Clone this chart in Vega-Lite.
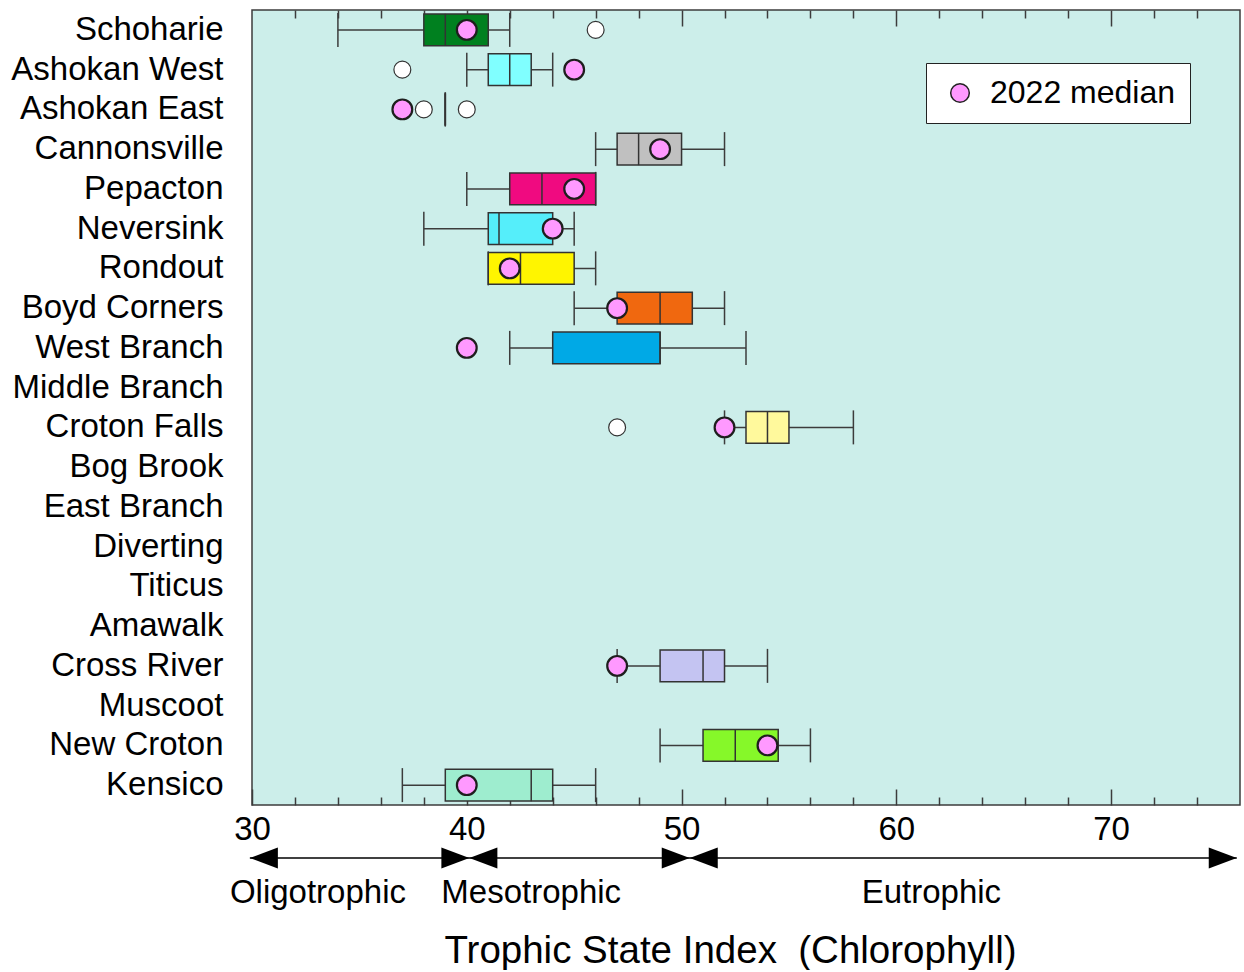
{
  "$schema": "https://vega.github.io/schema/vega-lite/v6.json",
  "background": "white",
  "padding": {"left": 10, "top": 8, "right": 4, "bottom": 0},
  "bounds": "flush",
  "spacing": 0,
  "config": {
    "font": "Liberation Sans",
    "view": {"stroke": null},
    "axis": {"labelColor": "black", "titleColor": "black", "grid": false}
  },
  "datasets": {
    "stats": [
      {"reservoir": "Schoharie", "lo": 34, "q1": 38, "med": 39, "q3": 41, "hi": 42, "tsi2022": 40},
      {"reservoir": "Ashokan West", "lo": 40, "q1": 41, "med": 42, "q3": 43, "hi": 44, "tsi2022": 45},
      {"reservoir": "Ashokan East", "lo": 39, "q1": 39, "med": 39, "q3": 39, "hi": 39, "tsi2022": 37},
      {"reservoir": "Cannonsville", "lo": 46, "q1": 47, "med": 48, "q3": 50, "hi": 52, "tsi2022": 49},
      {"reservoir": "Pepacton", "lo": 40, "q1": 42, "med": 43.5, "q3": 46, "hi": 46, "tsi2022": 45},
      {"reservoir": "Neversink", "lo": 38, "q1": 41, "med": 41.5, "q3": 44, "hi": 45, "tsi2022": 44},
      {"reservoir": "Rondout", "lo": 41, "q1": 41, "med": 42.5, "q3": 45, "hi": 46, "tsi2022": 42},
      {"reservoir": "Boyd Corners", "lo": 45, "q1": 47, "med": 49, "q3": 50.5, "hi": 52, "tsi2022": 47},
      {"reservoir": "West Branch", "lo": 42, "q1": 44, "med": 49, "q3": 49, "hi": 53, "tsi2022": 40},
      {"reservoir": "Croton Falls", "lo": 52, "q1": 53, "med": 54, "q3": 55, "hi": 58, "tsi2022": 52},
      {"reservoir": "Cross River", "lo": 47, "q1": 49, "med": 51, "q3": 52, "hi": 54, "tsi2022": 47},
      {"reservoir": "New Croton", "lo": 49, "q1": 51, "med": 52.5, "q3": 54.5, "hi": 56, "tsi2022": 54},
      {"reservoir": "Kensico", "lo": 37, "q1": 39, "med": 43, "q3": 44, "hi": 46, "tsi2022": 40}
    ],
    "outliers": [
      {"reservoir": "Schoharie", "value": 46},
      {"reservoir": "Ashokan West", "value": 37},
      {"reservoir": "Ashokan East", "value": 38},
      {"reservoir": "Ashokan East", "value": 40},
      {"reservoir": "Croton Falls", "value": 47}
    ],
    "arrowheads": [
      {"tip": 29.9, "dir": "left"},
      {"tip": 40.12, "dir": "right"},
      {"tip": 40.12, "dir": "left"},
      {"tip": 50.38, "dir": "right"},
      {"tip": 50.38, "dir": "left"},
      {"tip": 75.85, "dir": "right"}
    ],
    "span": [{"from": 29.9, "to": 75.85}],
    "zones": [
      {"zone": "Oligotrophic", "center": 33.07},
      {"zone": "Mesotrophic", "center": 43.0},
      {"zone": "Eutrophic", "center": 61.63}
    ]
  },
  "vconcat": [
    {
      "width": 988,
      "height": 795,
      "view": {"fill": "#CCEEEA", "stroke": "#3c3c3c", "strokeWidth": 1.5},
      "resolve": {"axis": {"x": "independent"}, "scale": {"fill": "independent"}},
      "layer": [
        {
          "data": {"name": "stats"},
          "mark": {"type": "rule", "stroke": "#3c3c3c", "strokeWidth": 1.5},
          "encoding": {
            "y": {"field": "reservoir", "type": "nominal", "sort": null,
                  "scale": {"type": "band", "paddingInner": 0, "paddingOuter": 0,
                            "domain": ["Schoharie", "Ashokan West", "Ashokan East", "Cannonsville", "Pepacton", "Neversink", "Rondout", "Boyd Corners", "West Branch", "Middle Branch", "Croton Falls", "Bog Brook", "East Branch", "Diverting", "Titicus", "Amawalk", "Cross River", "Muscoot", "New Croton", "Kensico"]},
                  "axis": {"title": null, "ticks": false, "domain": false, "labelFontSize": 33, "labelPadding": 29, "labelLimit": 400, "labelColor": "black"}},
            "x": {"field": "lo", "type": "quantitative",
                  "scale": {"domain": [30, 76], "nice": false, "zero": false},
                  "axis": {"orient": "bottom", "title": null, "values": [30, 40, 50, 60, 70], "tickSize": -16, "tickWidth": 1.5, "tickColor": "#3c3c3c", "domain": false, "labelFontSize": 33, "labelPadding": 24, "labelFlush": false, "labelColor": "black"}},
            "x2": {"field": "hi"}
          }
        },
        {
          "data": {"name": "stats"},
          "mark": {"type": "tick", "color": "#3c3c3c", "size": 34, "thickness": 1.5, "opacity": 1},
          "encoding": {
            "y": {"field": "reservoir", "type": "nominal", "sort": null, "axis": {"title": null, "ticks": false, "domain": false, "labelFontSize": 33, "labelPadding": 29, "labelLimit": 400, "labelColor": "black"}},
            "x": {"field": "lo", "type": "quantitative",
                  "scale": {"domain": [30, 76], "nice": false, "zero": false},
                  "axis": {"orient": "bottom", "title": null, "values": [32, 34, 36, 38, 42, 44, 46, 48, 52, 54, 56, 58, 62, 64, 66, 68, 72, 74], "tickSize": -8, "tickWidth": 1.5, "tickColor": "#3c3c3c", "domain": false, "labels": false}}
          }
        },
        {
          "data": {"name": "stats"},
          "mark": {"type": "tick", "color": "#3c3c3c", "size": 34, "thickness": 1.5, "opacity": 1},
          "encoding": {
            "y": {"field": "reservoir", "type": "nominal", "sort": null, "axis": {"title": null, "ticks": false, "domain": false, "labelFontSize": 33, "labelPadding": 29, "labelLimit": 400, "labelColor": "black"}},
            "x": {"field": "hi", "type": "quantitative",
                  "scale": {"domain": [30, 76], "nice": false, "zero": false},
                  "axis": {"orient": "top", "title": null, "values": [32, 34, 36, 38, 42, 44, 46, 48, 52, 54, 56, 58, 62, 64, 66, 68, 72, 74], "tickSize": -8, "tickWidth": 1.5, "tickColor": "#3c3c3c", "domain": false, "labels": false}}
          }
        },
        {
          "data": {"name": "stats"},
          "mark": {"type": "bar", "height": {"band": 0.8}, "stroke": "#333333", "strokeWidth": 1.5, "opacity": 1},
          "encoding": {
            "y": {"field": "reservoir", "type": "nominal", "sort": null, "axis": {"title": null, "ticks": false, "domain": false, "labelFontSize": 33, "labelPadding": 29, "labelLimit": 400, "labelColor": "black"}},
            "x": {"field": "q1", "type": "quantitative",
                  "scale": {"domain": [30, 76], "nice": false, "zero": false},
                  "axis": {"orient": "top", "title": null, "values": [40, 50, 60, 70], "tickSize": -16, "tickWidth": 1.5, "tickColor": "#3c3c3c", "domain": false, "labels": false}},
            "x2": {"field": "q3"},
            "fill": {"field": "reservoir", "type": "nominal", "legend": null,
                     "scale": {"domain": ["Schoharie", "Ashokan West", "Ashokan East", "Cannonsville", "Pepacton", "Neversink", "Rondout", "Boyd Corners", "West Branch", "Croton Falls", "Cross River", "New Croton", "Kensico"],
                               "range": ["#00801F", "#80FFFF", "#FFFFFF", "#C0C0C0", "#F00A80", "#55EEFA", "#FFF500", "#F0680F", "#00A9E6", "#FFF99C", "#C4C4F2", "#86F829", "#9EEDCF"]}}
          }
        },
        {
          "data": {"name": "stats"},
          "mark": {"type": "tick", "color": "#333333", "size": 32, "thickness": 1.5, "opacity": 1},
          "encoding": {
            "y": {"field": "reservoir", "type": "nominal", "sort": null, "axis": {"title": null, "ticks": false, "domain": false, "labelFontSize": 33, "labelPadding": 29, "labelLimit": 400, "labelColor": "black"}},
            "x": {"field": "med", "type": "quantitative", "scale": {"domain": [30, 76], "nice": false, "zero": false}, "axis": null}
          }
        },
        {
          "data": {"name": "outliers"},
          "mark": {"type": "point", "shape": "circle", "filled": true, "fill": "white", "stroke": "#333333", "strokeWidth": 1.2, "size": 285, "opacity": 1},
          "encoding": {
            "y": {"field": "reservoir", "type": "nominal", "sort": null, "axis": {"title": null, "ticks": false, "domain": false, "labelFontSize": 33, "labelPadding": 29, "labelLimit": 400, "labelColor": "black"}},
            "x": {"field": "value", "type": "quantitative", "scale": {"domain": [30, 76], "nice": false, "zero": false}, "axis": null}
          }
        },
        {
          "data": {"name": "stats"},
          "mark": {"type": "point", "shape": "circle", "filled": true, "stroke": "#1e1e1e", "strokeWidth": 2.2, "size": 390, "opacity": 1},
          "encoding": {
            "y": {"field": "reservoir", "type": "nominal", "sort": null, "axis": {"title": null, "ticks": false, "domain": false, "labelFontSize": 33, "labelPadding": 29, "labelLimit": 400, "labelColor": "black"}},
            "x": {"field": "tsi2022", "type": "quantitative", "scale": {"domain": [30, 76], "nice": false, "zero": false}, "axis": null},
            "fill": {"datum": "2022 median", "type": "nominal",
                     "scale": {"domain": ["2022 median"], "range": ["#FF99FF"]},
                     "legend": {"title": null, "orient": "none", "legendX": 674, "legendY": 53,
                                "fillColor": "white", "strokeColor": "#222222", "padding": 14,
                                "symbolType": "circle", "symbolSize": 346, "symbolStrokeColor": "#222222", "symbolStrokeWidth": 1.5,
                                "symbolOffset": 4, "labelOffset": 14, "labelFontSize": 32, "labelColor": "black", "labelLimit": 400}}
          }
        }
      ]
    },
    {
      "width": 988,
      "height": 100,
      "view": {"stroke": null},
      "layer": [
        {
          "data": {"name": "span"},
          "mark": {"type": "rule", "stroke": "black", "strokeWidth": 1.5},
          "encoding": {
            "x": {"field": "from", "type": "quantitative", "scale": {"domain": [30, 76], "nice": false, "zero": false},
                  "axis": {"title": "Trophic State Index\u00a0 (Chlorophyll)", "labels": false, "ticks": false, "domain": false, "titleFontSize": 38.5, "titleFontWeight": "normal", "titlePadding": 27, "titleX": 478, "titleAlign": "center", "titleColor": "black"}},
            "x2": {"field": "to"},
            "y": {"datum": 47, "type": "quantitative", "scale": {"domain": [0, 100], "nice": false, "zero": false}, "axis": null}
          }
        },
        {
          "data": {"name": "arrowheads"},
          "mark": {"type": "point", "filled": true, "fill": "black", "stroke": null, "size": 784, "opacity": 1},
          "encoding": {
            "x": {"field": "tip", "type": "quantitative", "scale": {"domain": [30, 76], "nice": false, "zero": false},
                  "axis": {"title": "Trophic State Index\u00a0 (Chlorophyll)", "labels": false, "ticks": false, "domain": false, "titleFontSize": 38.5, "titleFontWeight": "normal", "titlePadding": 27, "titleX": 478, "titleAlign": "center", "titleColor": "black"}},
            "y": {"datum": 47, "type": "quantitative", "scale": {"domain": [0, 100], "nice": false, "zero": false}, "axis": null},
            "shape": {"field": "dir", "type": "nominal", "legend": null,
                      "scale": {"domain": ["left", "right"], "range": ["M0,0L2,-0.75L2,0.75Z", "M0,0L-2,-0.75L-2,0.75Z"]}}
          }
        },
        {
          "data": {"name": "zones"},
          "mark": {"type": "text", "fontSize": 33, "color": "black", "align": "center", "baseline": "middle"},
          "encoding": {
            "x": {"field": "center", "type": "quantitative", "scale": {"domain": [30, 76], "nice": false, "zero": false},
                  "axis": {"title": "Trophic State Index\u00a0 (Chlorophyll)", "labels": false, "ticks": false, "domain": false, "titleFontSize": 38.5, "titleFontWeight": "normal", "titlePadding": 27, "titleX": 478, "titleAlign": "center", "titleColor": "black"}},
            "y": {"datum": 12.4, "type": "quantitative", "scale": {"domain": [0, 100], "nice": false, "zero": false}, "axis": null},
            "text": {"field": "zone", "type": "nominal"}
          }
        }
      ]
    }
  ]
}
